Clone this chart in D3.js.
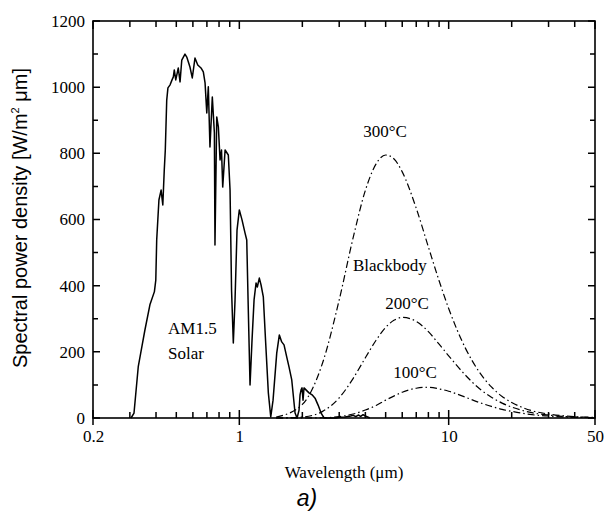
<!DOCTYPE html>
<html>
<head>
<meta charset="utf-8">
<script src="https://cdn.jsdelivr.net/npm/d3@7"></script>
<style>
  body { margin: 0; background: #fff; }
  svg  { display: block; }
</style>
</head>
<body>
<svg width="606" height="515"></svg>
<script>
// AM1.5 solar spectrum
const solarWave  = [0.304, 0.314, 0.329, 0.338, 0.354, 0.374, 0.393, 0.399, 0.403, 0.413, 0.423, 0.431, 0.438, 0.443,
                    0.450, 0.456, 0.467, 0.477, 0.484, 0.489, 0.497, 0.511, 0.521, 0.531, 0.550, 0.561, 0.581, 0.596,
                    0.614, 0.633, 0.656, 0.673, 0.686, 0.699, 0.711, 0.724, 0.743, 0.760, 0.765, 0.780, 0.794, 0.809,
                    0.822, 0.833, 0.855, 0.886, 0.903, 0.918, 0.936, 0.954, 0.975, 1.000, 1.030, 1.065, 1.085, 1.101,
                    1.125, 1.150, 1.176, 1.202, 1.219, 1.246, 1.270, 1.302, 1.334, 1.376, 1.413, 1.449, 1.509, 1.553,
                    1.594, 1.635, 1.685, 1.728, 1.780, 1.846, 1.887, 1.929, 1.950, 1.972, 1.993, 2.015, 2.037, 2.082,
                    2.152, 2.226, 2.300, 2.378, 2.458, 2.541, 2.9, 3.0, 3.2, 3.4, 3.5, 3.6, 3.7, 3.8, 3.9, 4.0, 4.1, 4.2];
const solarPower = [0, 15, 155, 196, 266, 342, 382, 417, 538, 659, 689, 644, 750, 810,
                    961, 998, 1007, 1022, 1031, 1052, 1022, 1058, 1016, 1082, 1100, 1091, 1061, 1028,
                    1088, 1067, 1058, 1046, 1013, 922, 1001, 819, 970, 862, 523, 910, 880, 780,
                    810, 698, 810, 795, 689, 387, 227, 357, 568, 629, 599, 559, 538, 357,
                    100, 236, 357, 408, 396, 423, 402, 366, 236, 76, 3, 54, 196, 251,
                    230, 221, 184, 154, 115, 15, 0, 24, 70, 85, 91, 54, 91, 85,
                    76, 70, 60, 39, 15, 0, 0, 2, 3, 6, 8, 4, 9, 5, 10, 6, 3, 0];

// blackbody curves
const bbWave = [1.5, 2, 2.5, 3, 3.5, 4, 4.5, 5, 5.5, 6, 7, 8, 9, 10, 12, 14, 16, 18, 20, 25, 30, 35, 40, 50];
const bb300  = [2.6, 41, 167, 357, 546, 688, 768, 795, 782, 744, 634, 517, 415, 331, 212, 139, 94, 65, 47, 22, 12, 7, 4, 2];
const bb200  = [0.1, 3, 20, 61, 120, 182, 235, 274, 296, 304, 292, 261, 223, 188, 130, 89, 63, 45, 33, 16, 9, 5, 3, 1.4];
const bb100  = [0, 0.05, 0.8, 4, 12, 24, 38, 54, 67, 78, 90, 93, 88, 81, 63, 47, 35, 26, 20, 10, 6, 3.5, 2.3, 1];

const xMajor = [0.2, 1, 10, 50];
const xMinor = [0.3, 0.4, 0.5, 0.6, 0.7, 0.8, 0.9, 2, 3, 4, 5, 6, 7, 8, 9, 20, 30, 40];
const yMajor = [0, 200, 400, 600, 800, 1000, 1200];
const yMinor = [100, 300, 500, 700, 900, 1100];

const svg = d3.select("svg");
const L = 93, R = 595, T = 21, B = 418;

const x = d3.scaleLog().domain([0.2, 50]).range([L, R]);
const y = d3.scaleLinear().domain([0, 1200]).range([B, T]);

const serif = "'Liberation Serif', 'Times New Roman', serif";

// tick labels from d3 axes
const xAxisG = svg.append("g")
  .attr("transform", `translate(0,${B})`)
  .call(d3.axisBottom(x).tickValues(xMajor).tickSize(0).tickPadding(12).tickFormat(d3.format("")));
const yAxisG = svg.append("g")
  .attr("transform", `translate(${L},0)`)
  .call(d3.axisLeft(y).tickValues(yMajor).tickSize(0).tickPadding(8).tickFormat(d3.format("")));
[xAxisG, yAxisG].forEach(g => {
  g.select(".domain").remove();
  g.selectAll(".tick line").remove();
  g.selectAll(".tick text").attr("font-family", serif).attr("font-size", 17).attr("fill", "#000");
});

// tick marks on all four sides, drawn as one path
// x majors cross the bottom axis, everything else points inward
const tickPath = d3.path();
xMajor.forEach(v => {
  tickPath.moveTo(x(v), B + 7); tickPath.lineTo(x(v), B - 8);
  tickPath.moveTo(x(v), T); tickPath.lineTo(x(v), T + 8);
});
xMinor.forEach(v => {
  tickPath.moveTo(x(v), B); tickPath.lineTo(x(v), B - 6);
  tickPath.moveTo(x(v), T); tickPath.lineTo(x(v), T + 6);
});
yMajor.forEach(v => {
  tickPath.moveTo(L, y(v)); tickPath.lineTo(L + 7, y(v));
  tickPath.moveTo(R, y(v)); tickPath.lineTo(R - 7, y(v));
});
yMinor.forEach(v => {
  tickPath.moveTo(L, y(v)); tickPath.lineTo(L + 5, y(v));
  tickPath.moveTo(R, y(v)); tickPath.lineTo(R - 5, y(v));
});
svg.append("path")
  .attr("d", tickPath.toString())
  .attr("fill", "none").attr("stroke", "#000").attr("stroke-width", 1.5);

svg.append("rect")
  .attr("x", L).attr("y", T).attr("width", R - L).attr("height", B - T)
  .attr("fill", "none").attr("stroke", "#000").attr("stroke-width", 1.6);

// curves
const line = d3.line().x(d => x(d[0])).y(d => y(d[1]));

svg.append("path")
  .datum(d3.zip(solarWave, solarPower))
  .attr("d", line)
  .attr("fill", "none").attr("stroke", "#000").attr("stroke-width", 1.5)
  .attr("stroke-linejoin", "round");

const smooth = d3.line().x(d => x(d[0])).y(d => y(d[1])).curve(d3.curveMonotoneX);
[bb300, bb200, bb100].forEach(vals => {
  svg.append("path")
    .datum(d3.zip(bbWave, vals))
    .attr("d", smooth)
    .attr("fill", "none").attr("stroke", "#000").attr("stroke-width", 1.2)
    .attr("stroke-dasharray", "7,3,1.5,3");
});

// labels
const labels = [
  ["300°C", 385, 137, "middle"],
  ["Blackbody", 353, 271, "start"],
  ["200°C", 407, 309, "middle"],
  ["100°C", 415, 378, "middle"],
  ["AM1.5", 168, 334, "start"],
  ["Solar", 168, 359, "start"]
];
svg.selectAll(".lbl").data(labels).join("text")
  .attr("class", "lbl")
  .attr("x", d => d[1]).attr("y", d => d[2])
  .attr("text-anchor", d => d[3])
  .attr("font-family", serif).attr("font-size", 17)
  .text(d => d[0]);

svg.append("text")
  .attr("x", (L + R) / 2).attr("y", 478)
  .attr("text-anchor", "middle")
  .attr("font-family", serif).attr("font-size", 17)
  .text("Wavelength (μm)");

const yTitle = svg.append("text")
  .attr("transform", "translate(27,218) rotate(-90)")
  .attr("text-anchor", "middle")
  .attr("font-family", "'Liberation Sans', Arial, sans-serif").attr("font-size", 20);
yTitle.append("tspan").text("Spectral power density [W/m");
yTitle.append("tspan").attr("font-size", 11).attr("dy", -8).text("2");
yTitle.append("tspan").attr("dy", 8).text(" μm]");

svg.append("text")
  .attr("x", 307).attr("y", 506)
  .attr("text-anchor", "middle")
  .attr("font-family", "'Liberation Sans', Arial, sans-serif")
  .attr("font-style", "italic").attr("font-size", 23)
  .text("a)");
</script>
</body>
</html>
